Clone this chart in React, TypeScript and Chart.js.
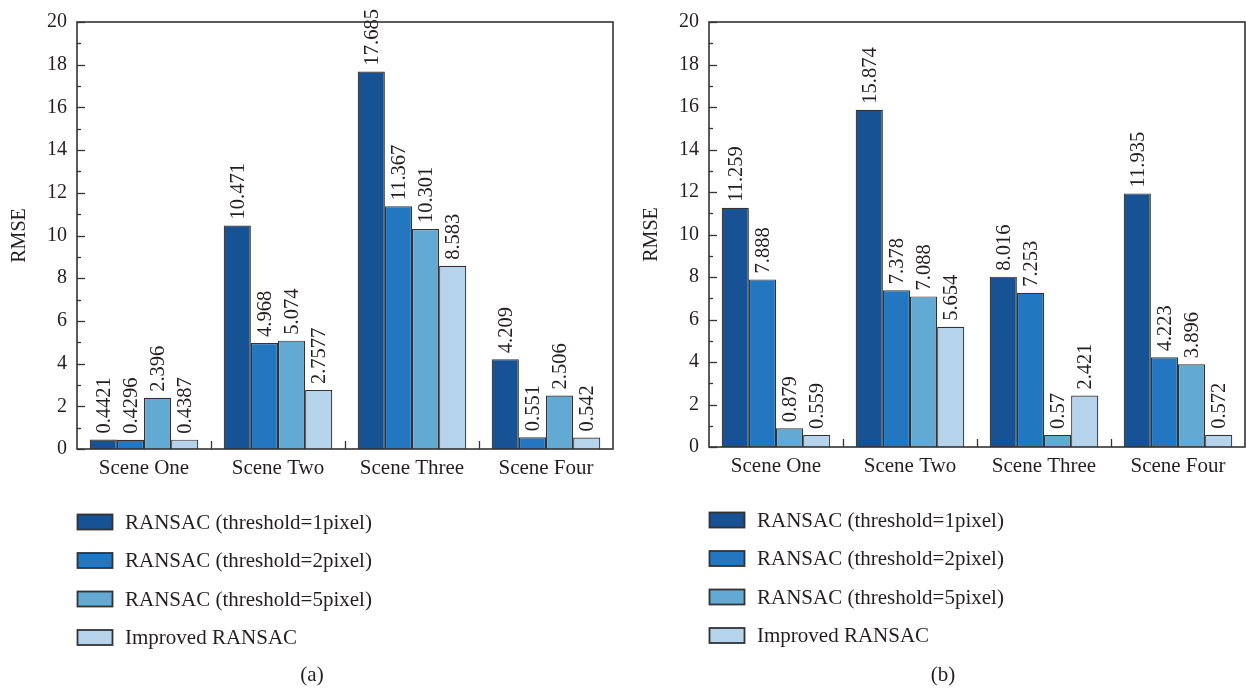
import React, { useEffect, useRef } from 'react';
import { Chart, registerables } from 'chart.js';

Chart.register(...registerables);

// ---------- data ----------
const categories = ['Scene One', 'Scene Two', 'Scene Three', 'Scene Four'];
const seriesNames = [
  'RANSAC (threshold=1pixel)',
  'RANSAC (threshold=2pixel)',
  'RANSAC (threshold=5pixel)',
  'Improved RANSAC',
];
const seriesColors = ['#175294', '#2277c0', '#62a9d4', '#b6d3ec'];

// panel (a)
const aRansac1 = [0.4421, 10.471, 17.685, 4.209];
const aRansac2 = [0.4296, 4.968, 11.367, 0.551];
const aRansac5 = [2.396, 5.074, 10.301, 2.506];
const aImproved = [0.4387, 2.7577, 8.583, 0.542];

// panel (b)
const bRansac1 = [11.259, 15.874, 8.016, 11.935];
const bRansac2 = [7.888, 7.378, 7.253, 4.223];
const bRansac5 = [0.879, 7.088, 0.57, 3.896];
const bImproved = [0.559, 5.654, 2.421, 0.572];

const yMin = 0;
const yMax = 20;
const yStep = 2;
const yMinorStep = 1;
const yTitle = 'RMSE';

const FONT = '"Liberation Serif", "DejaVu Serif", serif';
const TEXT = '#231f20';
const LINE = '#333333';

type PanelCfg = {
  left: number;
  width: number;
  series: number[][];
  caption: string;
  yAxisWidth: number;
  padTop: number;
  padRight: number;
  xAxisHeight: number;
  titlePad: number;
  captionX: number;
};

function makePlugin(cfg: PanelCfg) {
  return {
    id: 'decor' + cfg.caption,
    afterDraw(chart: any) {
      const ctx: CanvasRenderingContext2D = chart.ctx;
      const area = chart.chartArea;
      const xs = chart.scales.x;
      const ys = chart.scales.y;
      ctx.save();

      // data labels (rotated)
      ctx.fillStyle = TEXT;
      ctx.font = `20.5px ${FONT}`;
      ctx.textAlign = 'left';
      ctx.textBaseline = 'middle';
      chart.data.datasets.forEach((ds: any, di: number) => {
        const meta = chart.getDatasetMeta(di);
        meta.data.forEach((bar: any, i: number) => {
          ctx.save();
          ctx.translate(bar.x, bar.y - 6);
          ctx.rotate(-Math.PI / 2);
          ctx.fillText(String(ds.data[i]), 0, 1);
          ctx.restore();
        });
      });

      // frame
      ctx.strokeStyle = LINE;
      ctx.lineWidth = 1.6;
      ctx.strokeRect(area.left, area.top, area.right - area.left, area.bottom - area.top);

      // y ticks (inward, major + minor)
      ctx.lineWidth = 1.3;
      for (let v = yMin; v <= yMax; v += yMinorStep) {
        const y = Math.round(ys.getPixelForValue(v)) + 0.5;
        const len = v % yStep === 0 ? 8 : 4;
        ctx.beginPath();
        ctx.moveTo(area.left, y);
        ctx.lineTo(area.left + len, y);
        ctx.stroke();
      }
      // x ticks between categories
      for (let i = 1; i < categories.length; i++) {
        const x = Math.round((xs.getPixelForValue(i - 1) + xs.getPixelForValue(i)) / 2) + 0.5;
        ctx.beginPath();
        ctx.moveTo(x, area.bottom);
        ctx.lineTo(x, area.bottom - 8);
        ctx.stroke();
      }

      // legend
      const rowTop = area.bottom + 73;
      const rowGap = 38.5;
      ctx.font = `21px ${FONT}`;
      ctx.textBaseline = 'middle';
      ctx.textAlign = 'left';
      chart.data.datasets.forEach((ds: any, di: number) => {
        const cy = rowTop + di * rowGap;
        const bx = area.left;
        ctx.fillStyle = ds.backgroundColor;
        ctx.fillRect(bx, cy - 7.5, 35, 15);
        ctx.strokeStyle = LINE;
        ctx.lineWidth = 1.8;
        ctx.strokeRect(bx + 0.5, cy - 7.5, 35, 15);
        ctx.fillStyle = TEXT;
        ctx.fillText(ds.label, bx + 48, cy + 1);
      });

      // caption
      ctx.textAlign = 'center';
      ctx.fillText(cfg.caption, cfg.captionX, 675);
      ctx.restore();
    },
  };
}

function Panel({ cfg }: { cfg: PanelCfg }) {
  const ref = useRef<HTMLCanvasElement>(null);
  useEffect(() => {
    if (!ref.current) return;
    const chart = new Chart(ref.current, {
      type: 'bar',
      data: {
        labels: categories,
        datasets: cfg.series.map((values, i) => ({
          label: seriesNames[i],
          data: values,
          backgroundColor: seriesColors[i],
          borderColor: LINE,
          borderWidth: 1.2,
          categoryPercentage: 0.81,
          barPercentage: 1.0,
        })),
      },
      options: {
        responsive: false,
        animation: false,
        devicePixelRatio: 1,
        layout: { padding: { left: 0, top: cfg.padTop, right: cfg.padRight, bottom: 0 } },
        plugins: {
          legend: { display: false },
          tooltip: { enabled: false },
        },
        scales: {
          x: {
            type: 'category',
            grid: { display: false, drawTicks: false },
            border: { display: false },
            ticks: { font: { family: FONT, size: 21 }, color: TEXT, padding: 7 },
            afterFit: (s: any) => {
              s.height = cfg.xAxisHeight;
            },
          },
          y: {
            min: yMin,
            max: yMax,
            grid: { display: false, drawTicks: false },
            border: { display: false },
            ticks: { stepSize: yStep, font: { family: FONT, size: 20 }, color: TEXT, padding: 10 },
            title: {
              display: true,
              text: yTitle,
              font: { family: FONT, size: 20 },
              color: TEXT,
              padding: { top: cfg.titlePad, bottom: 0 },
            },
            afterFit: (s: any) => {
              s.width = cfg.yAxisWidth;
            },
          },
        },
      },
      plugins: [makePlugin(cfg)],
    } as any);
    return () => chart.destroy();
  }, []);
  return (
    <div style={{ position: 'absolute', left: cfg.left, top: 0, width: cfg.width, height: 690 }}>
      <canvas ref={ref} width={cfg.width} height={690} style={{ display: 'block' }} />
    </div>
  );
}

const panelA: PanelCfg = {
  left: 0,
  width: 623,
  series: [aRansac1, aRansac2, aRansac5, aImproved],
  caption: '(a)',
  yAxisWidth: 77,
  padTop: 20,
  padRight: 10,
  xAxisHeight: 241,
  titlePad: 8,
  captionX: 312,
};

const panelB: PanelCfg = {
  left: 623,
  width: 623,
  series: [bRansac1, bRansac2, bRansac5, bImproved],
  caption: '(b)',
  yAxisWidth: 86,
  padTop: 19,
  padRight: 1,
  xAxisHeight: 243,
  titlePad: 17,
  captionX: 320,
};

export default function App() {
  return (
    <div style={{ position: 'absolute', left: 0, top: 0, width: 1246, height: 690, background: '#fff', overflow: 'hidden' }}>
      <Panel cfg={panelA} />
      <Panel cfg={panelB} />
    </div>
  );
}
